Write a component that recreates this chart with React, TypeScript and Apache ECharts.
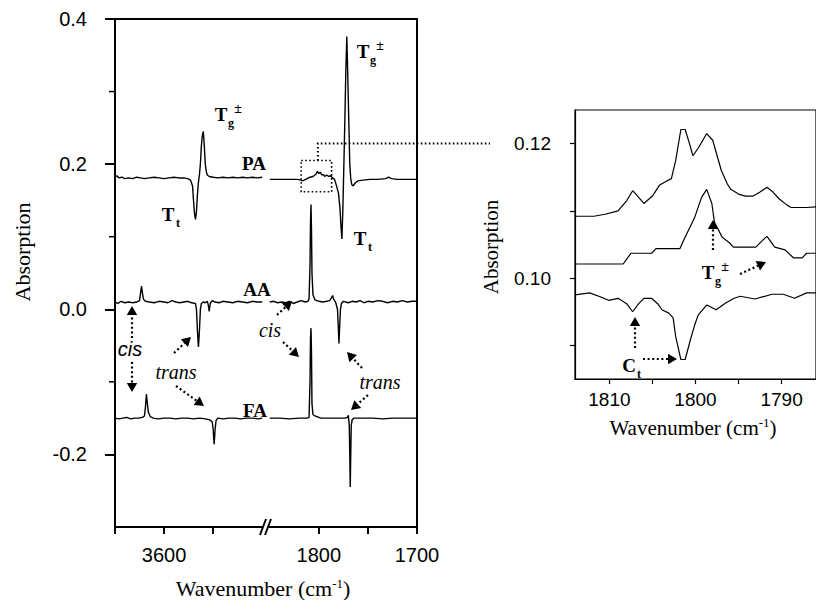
import React, { useEffect, useRef } from "react";
import * as echarts from "echarts";

type Pt = [number, number];

// Difference spectra, O-H stretch region (3650–3500 cm-1)
const PA_OH: Pt[] = [
  [3650, 0.182], [3648, 0.184], [3646, 0.181], [3643, 0.182], [3640, 0.180], [3636, 0.181],
  [3632, 0.180], [3628, 0.182], [3624, 0.181], [3620, 0.180], [3615, 0.181], [3610, 0.182],
  [3605, 0.181], [3600, 0.180], [3595, 0.181], [3590, 0.182], [3585, 0.181], [3580, 0.181],
  [3576, 0.180], [3573, 0.178], [3571, 0.170], [3570, 0.150], [3569, 0.132], [3568, 0.124],
  [3567, 0.135], [3566, 0.158], [3565, 0.175], [3564, 0.185], [3563, 0.200], [3562, 0.225],
  [3561, 0.240], [3560, 0.245], [3559, 0.225], [3558, 0.200], [3557, 0.190], [3556, 0.185],
  [3554, 0.183], [3550, 0.182], [3545, 0.181], [3540, 0.182], [3535, 0.181], [3530, 0.182],
  [3525, 0.181], [3520, 0.182], [3515, 0.181], [3510, 0.182], [3505, 0.181], [3500, 0.182],
];
const AA_OH: Pt[] = [
  [3650, 0.010], [3647, 0.008], [3644, 0.011], [3640, 0.009], [3636, 0.010], [3632, 0.009],
  [3628, 0.010], [3625, 0.012], [3624, 0.022], [3623, 0.032], [3622, 0.022], [3621, 0.014],
  [3619, 0.011], [3615, 0.010], [3610, 0.009], [3605, 0.011], [3600, 0.010], [3596, 0.009],
  [3592, 0.012], [3588, 0.010], [3584, 0.009], [3580, 0.010], [3576, 0.011], [3572, 0.009],
  [3568, 0.008], [3567, 0.000], [3566, -0.030], [3565, -0.052], [3564, -0.030], [3563, 0.000],
  [3562, 0.008], [3560, 0.010], [3558, 0.009], [3556, 0.011], [3555, 0.006], [3554, -0.003],
  [3553, 0.008], [3551, 0.012], [3548, 0.010], [3544, 0.009], [3540, 0.011], [3535, 0.010],
  [3530, 0.009], [3525, 0.011], [3520, 0.010], [3515, 0.009], [3510, 0.011], [3505, 0.010],
  [3500, 0.010],
];
const FA_OH: Pt[] = [
  [3650, -0.150], [3646, -0.151], [3642, -0.150], [3638, -0.149], [3634, -0.151], [3630, -0.150],
  [3626, -0.150], [3622, -0.149], [3620, -0.147], [3619, -0.135], [3618, -0.117], [3617, -0.130],
  [3616, -0.142], [3614, -0.148], [3611, -0.150], [3606, -0.151], [3600, -0.150], [3594, -0.150],
  [3588, -0.151], [3582, -0.150], [3576, -0.150], [3570, -0.151], [3564, -0.150], [3558, -0.151],
  [3554, -0.152], [3551, -0.155], [3550, -0.165], [3549, -0.186], [3548, -0.165], [3547, -0.153],
  [3545, -0.150], [3540, -0.151], [3534, -0.150], [3528, -0.150], [3522, -0.151], [3516, -0.150],
  [3510, -0.150], [3504, -0.151], [3500, -0.150],
];

// Difference spectra, C=O stretch region (1850–1700 cm-1)
const PA_CO: Pt[] = [
  [1850, 0.179], [1840, 0.179], [1830, 0.179], [1822, 0.179], [1818, 0.178], [1817, 0.177],
  [1815, 0.178], [1812, 0.180], [1809, 0.182], [1806, 0.183], [1803, 0.186], [1801.5, 0.190],
  [1800, 0.187], [1798.5, 0.189], [1797, 0.185], [1795.5, 0.186], [1794, 0.183], [1792, 0.185],
  [1790, 0.183], [1788, 0.184], [1786, 0.181], [1784, 0.179], [1782, 0.170], [1780, 0.160],
  [1778.5, 0.140], [1777.5, 0.115], [1776.5, 0.097], [1775.5, 0.140], [1774.5, 0.200],
  [1773.5, 0.260], [1772.5, 0.330], [1771.5, 0.376], [1770.5, 0.320], [1769.5, 0.260],
  [1768.5, 0.200], [1767.5, 0.180], [1766.5, 0.172], [1765, 0.170], [1763, 0.174], [1760, 0.177],
  [1755, 0.178], [1748, 0.179], [1740, 0.179], [1732, 0.180], [1729, 0.182], [1726, 0.180],
  [1720, 0.179], [1712, 0.179], [1705, 0.179], [1700, 0.179],
];
const AA_CO: Pt[] = [
  [1850, 0.010], [1846, 0.011], [1842, 0.009], [1838, 0.010], [1834, 0.009], [1830, 0.011],
  [1826, 0.008], [1822, 0.010], [1818, 0.012], [1814, 0.010], [1811, 0.011], [1810, 0.014],
  [1809, 0.060], [1808.5, 0.120], [1808, 0.1445], [1807.5, 0.110], [1807, 0.050], [1806, 0.020],
  [1804, 0.013], [1800, 0.011], [1796, 0.010], [1792, 0.011], [1789, 0.012], [1787, 0.016],
  [1786, 0.019], [1785, 0.014], [1783, 0.010], [1781, 0.000], [1780, -0.030], [1779.5, -0.047],
  [1779, -0.030], [1778, 0.000], [1777, 0.008], [1775, 0.011], [1770, 0.009], [1766, 0.011],
  [1762, 0.010], [1758, 0.012], [1754, 0.009], [1750, 0.011], [1745, 0.010], [1740, 0.012],
  [1735, 0.011], [1730, 0.009], [1725, 0.011], [1720, 0.010], [1715, 0.012], [1710, 0.010],
  [1705, 0.011], [1700, 0.011],
];
const FA_CO: Pt[] = [
  [1850, -0.150], [1840, -0.150], [1830, -0.151], [1820, -0.150], [1812, -0.150], [1810, -0.149],
  [1809, -0.100], [1808.5, -0.040], [1808, -0.026], [1807.5, -0.060], [1807, -0.130],
  [1806, -0.145], [1804, -0.147], [1802, -0.148], [1798, -0.150], [1790, -0.150], [1780, -0.150],
  [1773, -0.150], [1771, -0.149], [1770, -0.146], [1769, -0.160], [1768.5, -0.200],
  [1768, -0.245], [1767.5, -0.200], [1767, -0.160], [1766, -0.152], [1764, -0.150],
  [1755, -0.150], [1745, -0.150], [1735, -0.151], [1725, -0.150], [1715, -0.150], [1700, -0.150],
];

// Expanded C=O region, 1814–1786 cm-1
const ZOOM_TOP: Pt[] = [
  [1814, 0.1092], [1811.8, 0.1092], [1810.5, 0.1095], [1809, 0.1100], [1808, 0.1115],
  [1807.3, 0.1130], [1806.6, 0.1120], [1806, 0.1111], [1805, 0.1122], [1804.2, 0.1138],
  [1803.4, 0.1144], [1802.8, 0.1148], [1802.3, 0.1175], [1801.7, 0.1221], [1801.2, 0.1221],
  [1800.7, 0.1200], [1800.3, 0.1182], [1799.6, 0.1195], [1798.7, 0.1215], [1798, 0.1205],
  [1797, 0.1160], [1796.3, 0.1140], [1795.9, 0.1132], [1795, 0.1125], [1794.2, 0.1122],
  [1793.3, 0.1122], [1792.5, 0.1128], [1791.7, 0.1135], [1791, 0.1128], [1790.3, 0.1118],
  [1789.5, 0.1110], [1788.9, 0.1105], [1787.1, 0.1105], [1786, 0.1106],
];
const ZOOM_MID: Pt[] = [
  [1814, 0.1021], [1810, 0.1021], [1808.4, 0.1021], [1807.5, 0.1037], [1805.1, 0.1037],
  [1804.6, 0.1044], [1801.8, 0.1044], [1801.5, 0.1053], [1800.1, 0.1090], [1799.3, 0.1120],
  [1798.7, 0.1132], [1798.1, 0.1111], [1797.8, 0.1083], [1796.9, 0.1061], [1796.1, 0.1053],
  [1795.6, 0.1046], [1793, 0.1046], [1792.3, 0.1055], [1791.7, 0.1062], [1790.8, 0.1046],
  [1789.6, 0.1042], [1788.6, 0.1030], [1787.6, 0.1030], [1787.1, 0.1037], [1786, 0.1037],
];
const ZOOM_BOTTOM: Pt[] = [
  [1814, 0.0975], [1812.3, 0.0978], [1811, 0.0972], [1810.1, 0.0967], [1809, 0.0970],
  [1808, 0.0962], [1807.3, 0.0950], [1806.6, 0.0962], [1806, 0.0970], [1805.1, 0.0970],
  [1804.4, 0.0962], [1803.9, 0.0953], [1803.1, 0.0948], [1802.6, 0.0941], [1802.3, 0.0913],
  [1801.7, 0.0879], [1801.2, 0.0879], [1800.6, 0.0908], [1800.1, 0.0930], [1799.7, 0.0945],
  [1798.7, 0.0960], [1797.6, 0.0953], [1796.5, 0.0963], [1795.5, 0.0970], [1794.8, 0.0973],
  [1793.1, 0.0969], [1791.1, 0.0976], [1789.8, 0.0976], [1788.5, 0.0970], [1787.1, 0.0978],
  [1786, 0.0978],
];

// Tick positions
const MAIN_X_TICKS = [3650, 3600, 3550, 1800, 1750, 1700];
const MAIN_X_LABELS = [3600, 1800, 1700];
const MAIN_Y_LABELS = [-0.2, 0, 0.2, 0.4];
const MAIN_Y_MINOR = [-0.1, 0.1, 0.3];
const ZOOM_X_TICKS = [1810, 1805, 1800, 1795, 1790];
const ZOOM_X_LABELS = [1810, 1800, 1790];
const ZOOM_Y_TICKS = [0.09, 0.1, 0.11, 0.12];
const ZOOM_Y_LABELS = [0.1, 0.12];

const SANS = "Liberation Sans";
const SERIF = "Liberation Serif";

// Broken wavenumber axis: 3650–3500 on the left, 1850–1700 on the right
const SCALE = 0.975;
const toAxis = (w: number) => (w > 2500 ? (3650 - w) * SCALE : 300 - (w - 1700) * SCALE);
const fromAxis = (u: number) => (u < 150 ? 3650 - u / SCALE : 1700 + (300 - u) / SCALE);
const broken = (pts: Pt[]) => pts.map(([w, a]) => [toAxis(w), a]);

const spectrum = (data: number[][], xi: number, yi: number, width: number) => ({
  type: "line",
  xAxisIndex: xi,
  yAxisIndex: yi,
  data,
  symbol: "none",
  showSymbol: false,
  silent: true,
  lineStyle: { color: "#000", width },
});

const black = { color: "#000" };

function buildOption(): any {
  return {
    animation: false,
    backgroundColor: "#fff",
    grid: [
      { left: 115, top: 19, width: 302, height: 508, show: true, borderColor: "#000", borderWidth: 2 },
      { left: 575, top: 110, width: 250.6, height: 269, show: true, borderColor: "#000", borderWidth: 1.2 },
    ],
    xAxis: [
      {
        gridIndex: 0,
        type: "value",
        min: 0,
        max: 300,
        axisLine: { onZero: false, lineStyle: { ...black, width: 2 } },
        axisTick: { customValues: MAIN_X_TICKS.map(toAxis), length: 7, lineStyle: { ...black, width: 2 } },
        axisLabel: {
          customValues: MAIN_X_LABELS.map(toAxis),
          formatter: (v: number) => String(Math.round(fromAxis(v))),
          fontSize: 20,
          fontFamily: SANS,
          color: "#000",
          margin: 18,
        },
        splitLine: { show: false },
      },
      {
        gridIndex: 1,
        type: "value",
        inverse: true,
        min: 1786,
        max: 1814,
        axisLine: { onZero: false, lineStyle: { ...black, width: 1.2 } },
        axisTick: { customValues: ZOOM_X_TICKS, length: 5, lineStyle: { ...black, width: 1.2 } },
        axisLabel: {
          customValues: ZOOM_X_LABELS,
          formatter: (v: number) => String(Math.round(v)),
          fontSize: 19,
          fontFamily: SANS,
          color: "#000",
          margin: 11,
        },
        splitLine: { show: false },
      },
    ],
    yAxis: [
      {
        gridIndex: 0,
        type: "value",
        min: -0.3,
        max: 0.4,
        axisLine: { onZero: false, lineStyle: { ...black, width: 2 } },
        axisTick: { customValues: MAIN_Y_LABELS, length: 10, lineStyle: { ...black, width: 2 } },
        axisLabel: {
          customValues: MAIN_Y_LABELS,
          formatter: (v: number) => v.toFixed(1),
          fontSize: 20,
          fontFamily: SANS,
          color: "#000",
          margin: 28,
        },
        splitLine: { show: false },
      },
      {
        gridIndex: 1,
        type: "value",
        min: 0.085,
        max: 0.125,
        axisLine: { onZero: false, lineStyle: { ...black, width: 1.2 } },
        axisTick: { customValues: ZOOM_Y_TICKS, length: 5, lineStyle: { ...black, width: 1.2 } },
        axisLabel: {
          customValues: ZOOM_Y_LABELS,
          formatter: (v: number) => v.toFixed(2),
          fontSize: 19,
          fontFamily: SANS,
          color: "#000",
          margin: 24,
        },
        splitLine: { show: false },
      },
    ],
    series: [
      spectrum(broken(PA_OH), 0, 0, 1.4),
      spectrum(broken(AA_OH), 0, 0, 1.4),
      spectrum(broken(FA_OH), 0, 0, 1.4),
      spectrum(broken(PA_CO), 0, 0, 1.4),
      spectrum(broken(AA_CO), 0, 0, 1.4),
      spectrum(broken(FA_CO), 0, 0, 1.4),
      spectrum(ZOOM_TOP, 1, 1, 1.2),
      spectrum(ZOOM_MID, 1, 1, 1.2),
      spectrum(ZOOM_BOTTOM, 1, 1, 1.2),
    ],
  };
}

// Dotted arrow with a filled triangular head at (x2, y2)
function arrow(x1: number, y1: number, x2: number, y2: number, head = 9) {
  const len = Math.hypot(x2 - x1, y2 - y1);
  const ux = (x2 - x1) / len;
  const uy = (y2 - y1) / len;
  const bx = x2 - ux * head;
  const by = y2 - uy * head;
  const hw = head * 0.58;
  return [
    {
      type: "line",
      z: 100,
      shape: { x1, y1, x2: bx, y2: by },
      style: { stroke: "#000", lineWidth: 2.2, lineDash: [2, 2.6] },
    },
    {
      type: "polygon",
      z: 100,
      shape: { points: [[x2, y2], [bx - uy * hw, by + ux * hw], [bx + uy * hw, by - ux * hw]] },
      style: { fill: "#000" },
    },
  ];
}

type FontSpec = { size: number; family?: string; weight?: string; italic?: boolean };

function label(text: string, x: number, y: number, f: FontSpec, rotation = 0) {
  const style: any = {
    text,
    fill: "#000",
    fontSize: f.size,
    fontFamily: f.family || SERIF,
    align: "center",
    verticalAlign: "middle",
  };
  if (f.weight) style.fontWeight = f.weight;
  if (f.italic) style.fontStyle = "italic";
  return { type: "text", z: 100, x, y, rotation, style };
}

// Letter with subscript and optional superscript, e.g. T_g±
function term(x: number, y: number, main: string, sub: string, sup?: string) {
  const els: any[] = [
    label(main, x, y, { size: 19, weight: "bold" }),
    label(sub, x + 10, y + 9, { size: 12, weight: "bold" }),
  ];
  if (sup) els.push(label(sup, x + 17, y - 6, { size: 14, weight: "bold" }));
  return els;
}

function axisTitle(x: number, y: number, size: number) {
  return {
    type: "text",
    z: 100,
    x,
    y,
    style: {
      text: "{a|Wavenumber (cm}{b|-1}{a|)}",
      fill: "#000",
      fontSize: size,
      fontFamily: SERIF,
      align: "center",
      verticalAlign: "middle",
      rich: {
        a: { fontSize: size, fontFamily: SERIF, fill: "#000", verticalAlign: "bottom" },
        b: { fontSize: 13, fontFamily: SERIF, fill: "#000", verticalAlign: "bottom", padding: [0, 0, 9, 0] },
      },
    },
  };
}

function buildGraphic(chart: any) {
  const px = (w: number, a: number) =>
    chart.convertToPixel({ xAxisIndex: 0, yAxisIndex: 0 }, [toAxis(w), a]) as number[];

  // dotted frame around the expanded region on the PA trace
  const [bx1, by1] = px(1818, 0.205);
  const [bx2, by2] = px(1787, 0.162);
  const [cx, cy] = px(1801, 0.205);
  const [, ly] = px(1801, 0.2285);
  const dotted = { stroke: "#000", lineWidth: 1.6, lineDash: [1.6, 2.4] };

  // minor ticks on the absorption axis
  const [axisX] = px(3650, 0);
  const minor = MAIN_Y_MINOR.map((v) => {
    const [, ty] = px(3650, v);
    return { type: "line", z: 100, shape: { x1: axisX - 6, y1: ty, x2: axisX, y2: ty }, style: { stroke: "#000", lineWidth: 1.5 } };
  });

  // axis-break marks
  const [gx, yb] = px(1850, -0.3);
  const [gl] = px(3500, 0);
  const mid = (gx + gl) / 2;

  const els: any[] = [
    ...minor,
    {
      type: "rect",
      z: 100,
      shape: { x: bx1, y: by1, width: bx2 - bx1, height: by2 - by1 },
      style: { fill: "none", ...dotted },
    },
    {
      type: "polyline",
      z: 100,
      shape: { points: [[cx, cy], [cx, ly], [490, ly]] },
      style: { fill: "none", ...dotted, lineWidth: 2 },
    },
    {
      type: "polygon",
      z: 100,
      shape: { points: [[mid - 6, yb + 8], [mid, yb - 8], [mid + 5, yb - 8], [mid - 1, yb + 8]] },
      style: { fill: "#fff" },
    },
    { type: "line", z: 101, shape: { x1: mid - 6, y1: yb + 8, x2: mid, y2: yb - 8 }, style: { stroke: "#000", lineWidth: 2 } },
    { type: "line", z: 101, shape: { x1: mid - 1, y1: yb + 8, x2: mid + 5, y2: yb - 8 }, style: { stroke: "#000", lineWidth: 2 } },

    // axis titles
    label("Absorption", 22, 252, { size: 22 }, Math.PI / 2),
    axisTitle(263, 588, 22),
    label("Absorption", 491, 247, { size: 21 }, Math.PI / 2),
    axisTitle(693, 427, 21),

    // trace names
    label("PA", 254, 163, { size: 19, weight: "bold" }),
    label("AA", 257, 289, { size: 19, weight: "bold" }),
    label("FA", 255, 410, { size: 19, weight: "bold" }),

    ...term(168, 214, "T", "t"),
    ...term(221, 114, "T", "g", "±"),
    ...term(363, 51, "T", "g", "±"),
    ...term(360, 238, "T", "t"),
    ...term(708, 272, "T", "g", "±"),
    ...term(629, 365, "C", "t"),

    label("cis", 130, 349, { size: 20, family: SANS, italic: true }),
    label("trans", 176, 372, { size: 20, italic: true }),
    label("cis", 270, 330, { size: 20, italic: true }),
    label("trans", 380, 382, { size: 20, italic: true }),

    ...arrow(132, 338, 132, 306),
    ...arrow(132, 362, 132, 392),
    ...arrow(174, 353, 191, 337),
    ...arrow(176, 386, 204, 406),
    ...arrow(277, 315, 292, 301),
    ...arrow(283, 342, 299, 357),
    ...arrow(362, 368, 347, 352),
    ...arrow(368, 395, 351, 410),

    ...arrow(713, 250, 713, 220),
    ...arrow(740, 274, 766, 262),
    ...arrow(635, 348, 635, 317),
    ...arrow(643, 359, 677, 359),
  ];
  return { elements: els };
}

export default function App() {
  const ref = useRef<HTMLDivElement>(null);
  useEffect(() => {
    const el = ref.current;
    if (!el) return;
    const chart = echarts.init(el, null, { renderer: "svg" });
    chart.setOption(buildOption());
    chart.setOption({ graphic: buildGraphic(chart) });
    return () => chart.dispose();
  }, []);
  return (
    <div
      ref={ref}
      style={{ position: "absolute", left: 0, top: 0, width: 816, height: 600, background: "#fff" }}
    />
  );
}
